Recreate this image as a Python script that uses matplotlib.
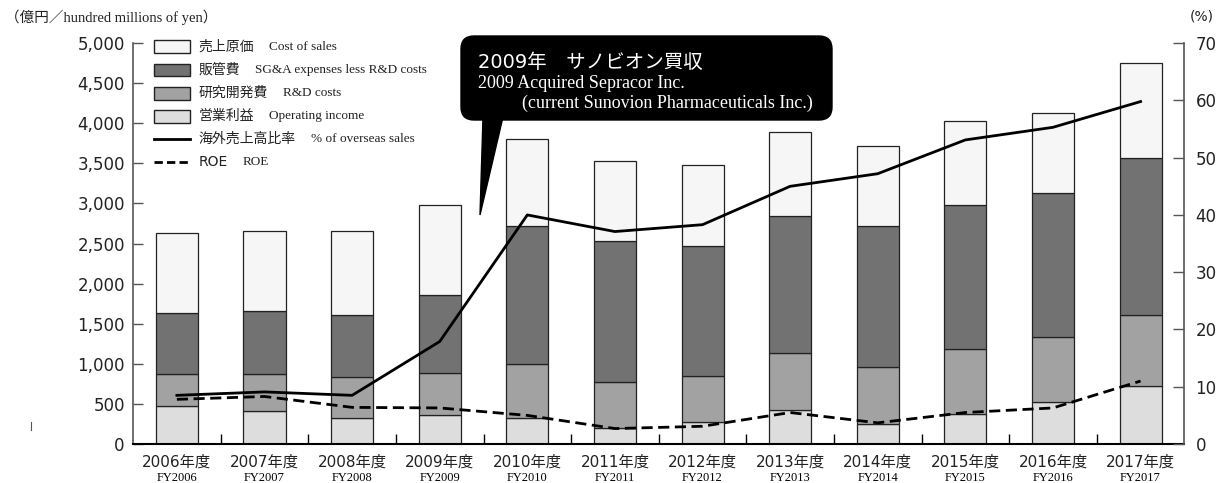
import matplotlib
matplotlib.use('Agg')
import matplotlib.pyplot as plt
from matplotlib.patches import Rectangle, FancyBboxPatch, Polygon
from matplotlib.lines import Line2D
import numpy as np

plt.rcParams['font.family'] = ['DejaVu Sans', 'Noto Sans CJK JP']

years_jp = ['2006年度', '2007年度', '2008年度', '2009年度', '2010年度', '2011年度',
            '2012年度', '2013年度', '2014年度', '2015年度', '2016年度', '2017年度']
years_en = ['FY2006', 'FY2007', 'FY2008', 'FY2009', 'FY2010', 'FY2011',
            'FY2012', 'FY2013', 'FY2014', 'FY2015', 'FY2016', 'FY2017']

# 億円
op_income = [470, 410, 320, 360, 320, 200, 270, 430, 250, 370, 530, 720]
rd_costs = [405, 465, 520, 520, 680, 575, 580, 710, 710, 820, 810, 890]
sga_costs = [755, 780, 765, 975, 1725, 1755, 1625, 1710, 1765, 1795, 1785, 1955]
cost_sales = [1005, 1005, 1050, 1120, 1085, 1000, 1010, 1040, 990, 1045, 1000, 1190]
# %
overseas = [8.5, 9.1, 8.5, 17.9, 40.0, 37.1, 38.3, 45.0, 47.2, 53.1, 55.3, 59.8]
roe = [7.8, 8.3, 6.4, 6.3, 5.0, 2.7, 3.1, 5.5, 3.7, 5.5, 6.3, 11.0]

c_cos = '#f5f6f5'
c_sga = '#727272'
c_rd = '#a1a2a1'
c_oi = '#dcdddc'
edge = '#222222'

fig = plt.figure(figsize=(12.21, 4.83), dpi=100)
ax = fig.add_axes([0.109, 0.0807, 0.861, 0.830])
ax2 = ax.twinx()

x = np.arange(len(years_jp))
w = 0.48
b1 = np.array(op_income)
b2 = b1 + np.array(rd_costs)
b3 = b2 + np.array(sga_costs)
ax.bar(x, op_income, w, color=c_oi, edgecolor=edge, linewidth=0.9)
ax.bar(x, rd_costs, w, bottom=b1, color=c_rd, edgecolor=edge, linewidth=0.9)
ax.bar(x, sga_costs, w, bottom=b2, color=c_sga, edgecolor=edge, linewidth=0.9)
ax.bar(x, cost_sales, w, bottom=b3, color=c_cos, edgecolor=edge, linewidth=0.9)

ax2.plot(x, overseas, color='black', lw=2)
ax2.plot(x, roe, color='black', lw=2, ls=(0, (4, 2)))

ax.set_xlim(-0.5, 11.5)
ax.set_ylim(0, 5000)
ax2.set_ylim(0, 70)

ax.set_yticks(np.arange(0, 5001, 500))
ax.set_yticklabels(['{:,}'.format(v) for v in range(0, 5001, 500)])
ax2.set_yticks(np.arange(0, 71, 10))

for s in ['top', 'right']:
    ax.spines[s].set_visible(False)
for s in ['top', 'left', 'bottom']:
    ax2.spines[s].set_visible(False)
ax.spines['left'].set_color('#555555')
ax.spines['left'].set_linewidth(1.2)
ax.spines['bottom'].set_color('black')
ax.spines['bottom'].set_linewidth(1.5)
ax2.spines['right'].set_color('#555555')
ax2.spines['right'].set_linewidth(1.2)

ax.tick_params(axis='y', direction='in', length=7, width=1, color='#555555',
               labelsize=12, pad=6, labelcolor='#222222')
ax2.tick_params(axis='y', direction='in', length=8, width=1, color='#555555',
                labelsize=12, pad=8, labelcolor='#222222')

ax.set_xticks(x)
ax.set_xticklabels(years_jp, fontsize=11, color='#222222')
ax.set_xticks(np.arange(0.5, 11, 1), minor=True)
ax.tick_params(axis='x', which='major', length=0, pad=8)
ax.tick_params(axis='x', which='minor', direction='in', length=7, width=1, color='black')
for i, fy in enumerate(years_en):
    ax.annotate(fy, xy=(i, 0), xycoords=('data', 'axes fraction'),
                xytext=(0, -24.5), textcoords='offset points',
                ha='center', va='center', fontsize=9, family='Liberation Serif')

# legend
legend_rows = [
    ('patch', c_cos, '売上原価', 'Cost of sales'),
    ('patch', c_sga, '販管費', 'SG&A expenses less R&D costs'),
    ('patch', c_rd, '研究開発費', 'R&D costs'),
    ('patch', c_oi, '営業利益', 'Operating income'),
    ('solid', None, '海外売上高比率', '% of overseas sales'),
    ('dash', None, 'ROE', 'ROE'),
]
row_y = [0.991, 0.933, 0.875, 0.818, 0.761, 0.704]
for (kind, col, jp, en), yc in zip(legend_rows, row_y):
    if kind == 'patch':
        ax2.add_patch(Rectangle((0.020, yc - 0.016), 0.034, 0.032, transform=ax.transAxes,
                                facecolor=col, edgecolor=edge, linewidth=1, clip_on=False))
    else:
        ls = '-' if kind == 'solid' else (0, (3, 1.5))
        ax2.add_line(Line2D([0.020, 0.054], [yc, yc], transform=ax.transAxes,
                            color='black', lw=2, ls=ls, clip_on=False))
    t = ax2.text(0.062, yc, jp, transform=ax.transAxes, va='center', ha='left',
                 fontsize=10, family=['DejaVu Sans', 'Noto Sans CJK JP'], color='#222222')
    ax2.annotate(en, xy=(1, 0.5), xycoords=t, xytext=(11, 0), textcoords='offset points',
                 va='center', ha='left', fontsize=9.5, family='Liberation Serif', color='#222222')

# callout
tr = fig.dpi_scale_trans
fig.add_artist(FancyBboxPatch((4.61, 3.63), 3.71, 0.84,
                              boxstyle='round,pad=0,rounding_size=0.13',
                              facecolor='black', edgecolor='black', transform=tr))
fig.add_artist(Polygon([(4.83, 3.66), (5.03, 3.66), (4.80, 2.68)], closed=True,
                       facecolor='black', edgecolor='black', transform=tr))
fig.text(0.3915, 0.8716, '2009年　サノビオン買収', color='white', fontsize=14,
         va='center', ha='left', family=['DejaVu Sans', 'Noto Sans CJK JP'])
fig.text(0.3915, 0.828, '2009 Acquired Sepracor Inc.', color='white', fontsize=13,
         va='center', ha='left', family='Liberation Serif')
fig.text(0.4275, 0.787, '(current Sunovion Pharmaceuticals Inc.)', color='white', fontsize=13,
         va='center', ha='left', family='Liberation Serif')

# axis unit labels
fig.text(0.004, 0.965, '（億円／hundred millions of yen）', fontsize=10.5, va='center', ha='left',
         family=['Liberation Serif', 'Noto Sans CJK JP'], color='#222222')
fig.text(0.984, 0.965, '(%)', fontsize=10, va='center', ha='center', color='#222222')
fig.add_artist(Line2D([0.0254, 0.0254], [0.110, 0.126], transform=fig.transFigure,
                      color='#555555', lw=0.8))

fig.savefig('out.png', dpi=100)
